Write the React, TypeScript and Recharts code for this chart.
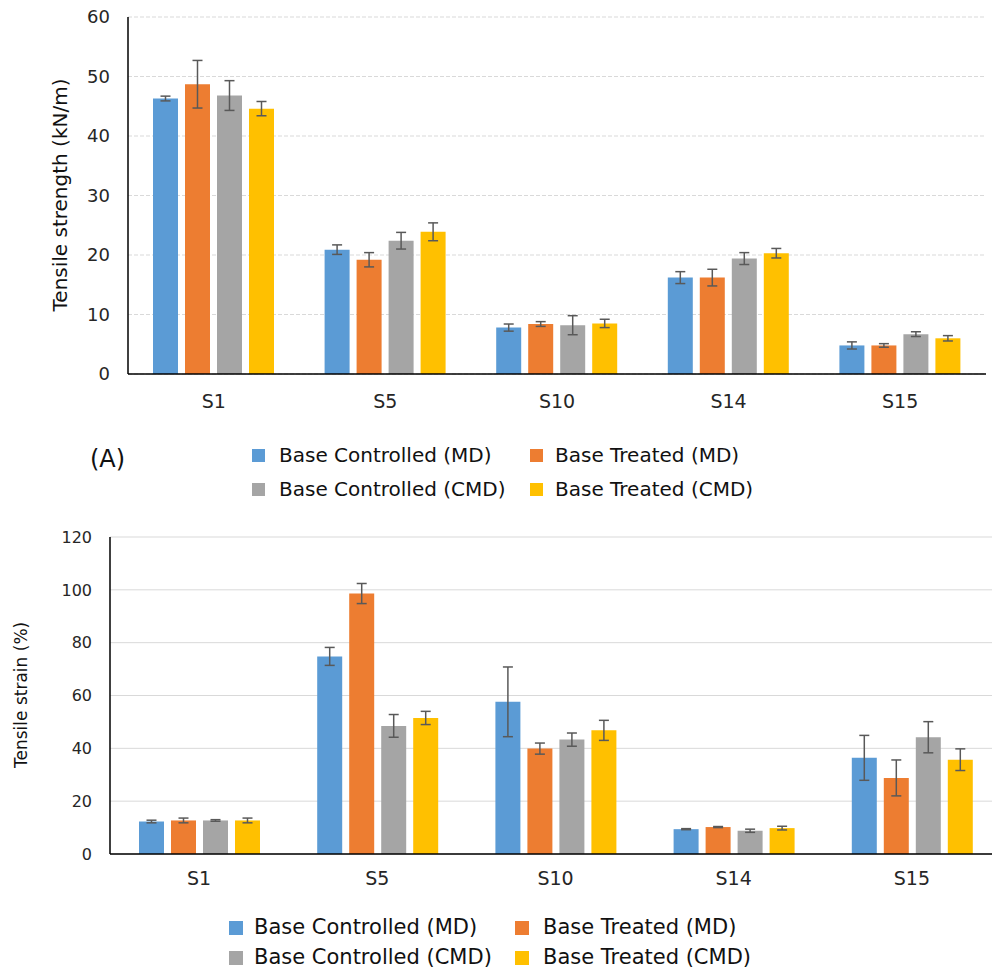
import React from 'react';
import { BarChart, Bar, XAxis, YAxis, CartesianGrid, ErrorBar } from 'recharts';

const categories = ['S1', 'S5', 'S10', 'S14', 'S15'];
const seriesNames = ['Base Controlled (MD)', 'Base Treated (MD)', 'Base Controlled (CMD)', 'Base Treated (CMD)'];
const colors = ['#5B9BD5', '#ED7D31', '#A5A5A5', '#FFC000'];

// (A) Tensile strength (kN/m)
const strengthControlledMD = [46.3, 20.9, 7.8, 16.2, 4.8];
const strengthTreatedMD = [48.7, 19.2, 8.4, 16.2, 4.8];
const strengthControlledCMD = [46.8, 22.4, 8.2, 19.4, 6.7];
const strengthTreatedCMD = [44.6, 23.9, 8.5, 20.3, 6.0];
const strengthErrControlledMD = [0.4, 0.8, 0.6, 1.0, 0.6];
const strengthErrTreatedMD = [4.0, 1.2, 0.4, 1.4, 0.3];
const strengthErrControlledCMD = [2.5, 1.4, 1.6, 1.0, 0.4];
const strengthErrTreatedCMD = [1.2, 1.5, 0.7, 0.8, 0.45];
const strengthTicks = [0, 10, 20, 30, 40, 50, 60];

// (B) Tensile strain (%)
const strainControlledMD = [12.3, 74.8, 57.6, 9.4, 36.4];
const strainTreatedMD = [12.7, 98.6, 39.9, 10.2, 28.8];
const strainControlledCMD = [12.7, 48.5, 43.3, 8.8, 44.2];
const strainTreatedCMD = [12.7, 51.5, 46.8, 9.8, 35.7];
const strainErrControlledMD = [0.5, 3.4, 13.2, 0.2, 8.5];
const strainErrTreatedMD = [0.9, 3.8, 2.1, 0.2, 6.8];
const strainErrControlledCMD = [0.3, 4.3, 2.5, 0.6, 5.9];
const strainErrTreatedCMD = [0.9, 2.5, 3.8, 0.7, 4.1];
const strainTicks = [0, 20, 40, 60, 80, 100, 120];

const FONT = '"DejaVu Sans", "Noto Sans", sans-serif';
const TEXT = '#262626';
const ERR = '#595959';

function buildRows(vals: number[][], errs: number[][]) {
  return categories.map((name, i) => {
    const row: any = { name };
    vals.forEach((v, k) => {
      row['v' + k] = v[i];
      row['e' + k] = errs[k][i];
    });
    return row;
  });
}

const strengthRows = buildRows(
  [strengthControlledMD, strengthTreatedMD, strengthControlledCMD, strengthTreatedCMD],
  [strengthErrControlledMD, strengthErrTreatedMD, strengthErrControlledCMD, strengthErrTreatedCMD]
);
const strainRows = buildRows(
  [strainControlledMD, strainTreatedMD, strainControlledCMD, strainTreatedCMD],
  [strainErrControlledMD, strainErrTreatedMD, strainErrControlledCMD, strainErrTreatedCMD]
);

function RotTitle({ text, cx, cy, size }: { text: string; cx: number; cy: number; size: number }) {
  const w = 400;
  const h = size * 1.4;
  return (
    <div
      style={{
        position: 'absolute',
        left: cx - w / 2,
        top: cy - h / 2,
        width: w,
        height: h,
        lineHeight: h + 'px',
        textAlign: 'center',
        fontFamily: FONT,
        fontSize: size,
        color: '#111',
        transform: 'rotate(-90deg)',
        transformOrigin: 'center center',
        whiteSpace: 'nowrap',
      }}
    >
      {text}
    </div>
  );
}

function LegendBlock({
  rowsY,
  colSquareX,
  colTextX,
  size,
  sq,
}: {
  rowsY: number[];
  colSquareX: number[];
  colTextX: number[];
  size: number;
  sq: number;
}) {
  const items: any[] = [];
  seriesNames.forEach((name, i) => {
    const r = Math.floor(i / 2);
    const c = i % 2;
    const cy = rowsY[r];
    items.push(
      <div
        key={'s' + i}
        style={{
          position: 'absolute',
          left: colSquareX[c],
          top: cy - sq / 2,
          width: sq,
          height: sq,
          background: colors[i],
        }}
      />
    );
    items.push(
      <div
        key={'t' + i}
        style={{
          position: 'absolute',
          left: colTextX[c],
          top: cy - size * 0.7,
          height: size * 1.4,
          lineHeight: size * 1.4 + 'px',
          fontFamily: FONT,
          fontSize: size,
          color: '#111',
          whiteSpace: 'nowrap',
        }}
      >
        {name}
      </div>
    );
  });
  return <>{items}</>;
}

function Bars() {
  return colors.map((c, k) => (
    <Bar key={k} dataKey={'v' + k} name={seriesNames[k]} fill={c} barSize={25} isAnimationActive={false}>
      <ErrorBar dataKey={'e' + k} width={5} strokeWidth={1.5} stroke={ERR} direction="y" />
    </Bar>
  ));
}

export default function App() {
  return (
    <div
      style={{
        position: 'absolute',
        left: 0,
        top: 0,
        width: 992,
        height: 968,
        overflow: 'hidden',
        background: '#fff',
      }}
    >
      <div style={{ position: 'absolute', left: 0, top: 0 }}>
        <BarChart
          width={992}
          height={420}
          data={strengthRows}
          margin={{ top: 17, right: 6, bottom: 16, left: 0 }}
          barGap={7}
        >
          <CartesianGrid vertical={false} stroke="#D9D9D9" strokeDasharray="4 2" />
          <XAxis
            dataKey="name"
            tickLine={false}
            axisLine={{ stroke: '#000', strokeWidth: 1.5 }}
            tick={{ fill: TEXT, fontSize: 19, fontFamily: FONT }}
            tickMargin={15}
            height={30}
            interval={0}
          />
          <YAxis
            domain={[0, 60]}
            ticks={strengthTicks}
            interval={0}
            tickLine={false}
            axisLine={{ stroke: '#000', strokeWidth: 1.5 }}
            tick={{ fill: TEXT, fontSize: 18, fontFamily: FONT }}
            tickMargin={12}
            width={128}
          />
          {Bars()}
        </BarChart>
      </div>
      <RotTitle text="Tensile strength (kN/m)" cx={60} cy={195} size={20} />
      <div
        style={{
          position: 'absolute',
          left: 90,
          top: 443,
          fontFamily: FONT,
          fontSize: 24,
          lineHeight: '32px',
          color: '#111',
        }}
      >
        (A)
      </div>
      <LegendBlock rowsY={[455, 489]} colSquareX={[252, 530]} colTextX={[279, 555]} size={20} sq={13} />

      <div style={{ position: 'absolute', left: 0, top: 500 }}>
        <BarChart
          width={1001}
          height={400}
          data={strainRows}
          margin={{ top: 37, right: 0, bottom: 16, left: 0 }}
          barGap={7}
        >
          <CartesianGrid vertical={false} stroke="#D9D9D9" />
          <XAxis
            dataKey="name"
            tickLine={false}
            axisLine={{ stroke: '#000', strokeWidth: 1.5 }}
            tick={{ fill: TEXT, fontSize: 19, fontFamily: FONT }}
            tickMargin={12}
            height={30}
            interval={0}
          />
          <YAxis
            domain={[0, 120]}
            ticks={strainTicks}
            interval={0}
            tickLine={false}
            axisLine={{ stroke: '#000', strokeWidth: 1.5 }}
            tick={{ fill: TEXT, fontSize: 16, fontFamily: FONT }}
            tickMargin={12}
            width={110}
          />
          {Bars()}
        </BarChart>
      </div>
      <RotTitle text="Tensile strain (%)" cx={22} cy={695} size={17} />
      <LegendBlock rowsY={[928, 958]} colSquareX={[229, 515]} colTextX={[254, 543]} size={21} sq={14} />
    </div>
  );
}
